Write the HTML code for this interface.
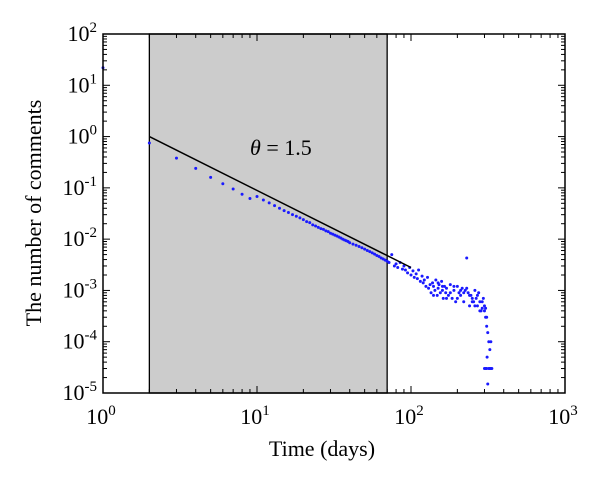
<!DOCTYPE html>
<html><head><meta charset="utf-8"><style>
body{margin:0;background:#fff;}
svg text{font-family:"Liberation Serif",serif;fill:#000;}
</style></head><body>
<svg id="chart" width="600" height="482" xmlns="http://www.w3.org/2000/svg">
<g id="g"></g>
</svg>
<script>
const xTickExps=[0,1,2,3];
const yTickExps=[2,1,0,-1,-2,-3,-4,-5];
const shadeRange=[2,70];
const fitLine=[[2,1],[100,0.0028]];
const days=[1,2,3,4,5,6,7,8,9,10,
11,12,13,14,15,16,17,18,19,20,
21,22,23,24,25,26,27,28,29,30,
31,32,33,34,35,36,37,38,39,40,
42,44,46,48,50,52,54,56,58,60,
62,64,66,68,70,
72,75,78,80,82,85,88,90,92,95,
98,100,103,105,108,110,112,115,118,120,
122,125,128,130,133,135,138,140,143,145,
148,150,152,155,158,160,162,165,168,170,
175,180,185,190,195,200,205,210,215,220,
225,230,235,240,245,250,255,260,265,270,
275,280,285,290,295,300,305,310,315,320,
325,330,300,305,310,315,320,325,330,335,
140,150,160,170,180,190,200,210,220,230,
240,250,260,270,280,290,300,305,310,312];
const comments=[22,0.75,0.38,0.24,0.16,0.12,0.095,0.075,0.062,0.068,
0.058,0.051,0.045,0.040,0.036,0.033,0.030,0.028,0.026,0.024,
0.022,0.021,0.019,0.018,0.017,0.016,0.0155,0.0145,0.014,0.013,
0.0125,0.012,0.0115,0.011,0.0105,0.0100,0.0096,0.0093,0.009,0.0085,
0.0080,0.0076,0.0072,0.0068,0.0064,0.006,0.0057,0.0054,0.0051,0.0048,
0.0046,0.0043,0.0041,0.0039,0.0037,
0.0035,0.005,0.003,0.0033,0.0028,0.0035,0.0026,0.003,0.0025,0.0022,
0.0028,0.002,0.0024,0.0018,0.0021,0.0017,0.0025,0.0015,0.0019,0.0014,
0.0016,0.0012,0.0018,0.0011,0.0013,0.0009,0.0014,0.0012,0.0010,0.0016,
0.0008,0.0011,0.0013,0.0009,0.0015,0.0010,0.0007,0.0012,0.0009,0.0011,
0.0008,0.0013,0.0007,0.0010,0.0006,0.0012,0.0009,0.0008,0.0011,0.0006,
0.0010,0.0043,0.0009,0.0005,0.0008,0.0007,0.0006,0.0010,0.0007,0.0005,
0.0009,0.0006,0.0004,0.00045,0.0007,0.0004,0.0003,0.0002,0.00015,0.0001,
0.00007,0.0001,0.00003,0.00003,0.00003,0.000015,0.00003,0.00003,0.00003,0.00003,
0.0008,0.0014,0.0012,0.0007,0.0009,0.0012,0.0007,0.0010,0.0009,0.0011,
0.0008,0.0006,0.0005,0.0008,0.0004,0.0006,0.0005,0.00045,0.0003,0.00005];
const L=103,R=565,T=34,B=393;
const xs=v=>L+Math.log10(v)*(R-L)/3;
const ys=v=>T+(2-Math.log10(v))*(B-T)/7;
const NS="http://www.w3.org/2000/svg";
const g=document.getElementById('g');
function mk(t,a){const e=document.createElementNS(NS,t);for(const k in a)e.setAttribute(k,a[k]);g.appendChild(e);return e;}
let e;
e=mk('rect',{x:L,y:T,width:R-L,height:B-T,fill:'#fff'});


e=mk('rect',{x:xs(shadeRange[0]),y:T,width:xs(shadeRange[1])-xs(shadeRange[0]),height:B-T,fill:'#cccccc',stroke:'#000','stroke-width':1.3});


days.forEach((d,i)=>{
 const c=mk('circle',{cx:xs(d),cy:ys(comments[i]),r:1.5,fill:'#1a1aff'});
 
 
});
e=mk('line',{x1:xs(fitLine[0][0]),y1:ys(fitLine[0][1]),x2:xs(fitLine[1][0]),y2:ys(fitLine[1][1]),stroke:'#000','stroke-width':1.5});


for(let d=0;d<3;d++)for(let m=1;m<10;m++){const x=xs(Math.pow(10,d)*m);const len=m==1?7:4;
 if(m==1&&d==0)continue;
 mk('line',{x1:x,y1:B,x2:x,y2:B-len,stroke:'#000','stroke-width':1});mk('line',{x1:x,y1:T,x2:x,y2:T+len,stroke:'#000','stroke-width':1});}
for(let d=-5;d<2;d++)for(let m=1;m<10;m++){const y=ys(Math.pow(10,d)*m);const len=m==1?7:4;
 if(m==1&&d==-5)continue;
 mk('line',{x1:L,y1:y,x2:L+len,y2:y,stroke:'#000','stroke-width':1});mk('line',{x1:R,y1:y,x2:R-len,y2:y,stroke:'#000','stroke-width':1});}
e=mk('rect',{x:L,y:T,width:R-L,height:B-T,fill:'none',stroke:'#000','stroke-width':1.5});


xTickExps.forEach(p=>{const t=mk('text',{x:xs(Math.pow(10,p))-2,y:424,'font-size':22,'text-anchor':'middle'});
 t.innerHTML='10<tspan dy="-9" font-size="15">'+p+'</tspan>';
 
 });
yTickExps.forEach(p=>{const t=mk('text',{x:L-6,y:ys(Math.pow(10,p))+7,'font-size':22,'text-anchor':'end'});
 t.innerHTML='10<tspan dy="-9" font-size="15">'+p+'</tspan>';
 
 });
e=mk('text',{x:322,y:456,'font-size':22,'text-anchor':'middle'});e.textContent='Time (days)';


e=mk('text',{x:0,y:0,'font-size':22,'text-anchor':'middle',transform:'translate(41,213) rotate(-90)'});e.textContent='The number of comments';


e=mk('text',{x:250,y:155,'font-size':22});e.innerHTML='<tspan font-style="italic">θ</tspan> = 1.5';


</script>
</body></html>
